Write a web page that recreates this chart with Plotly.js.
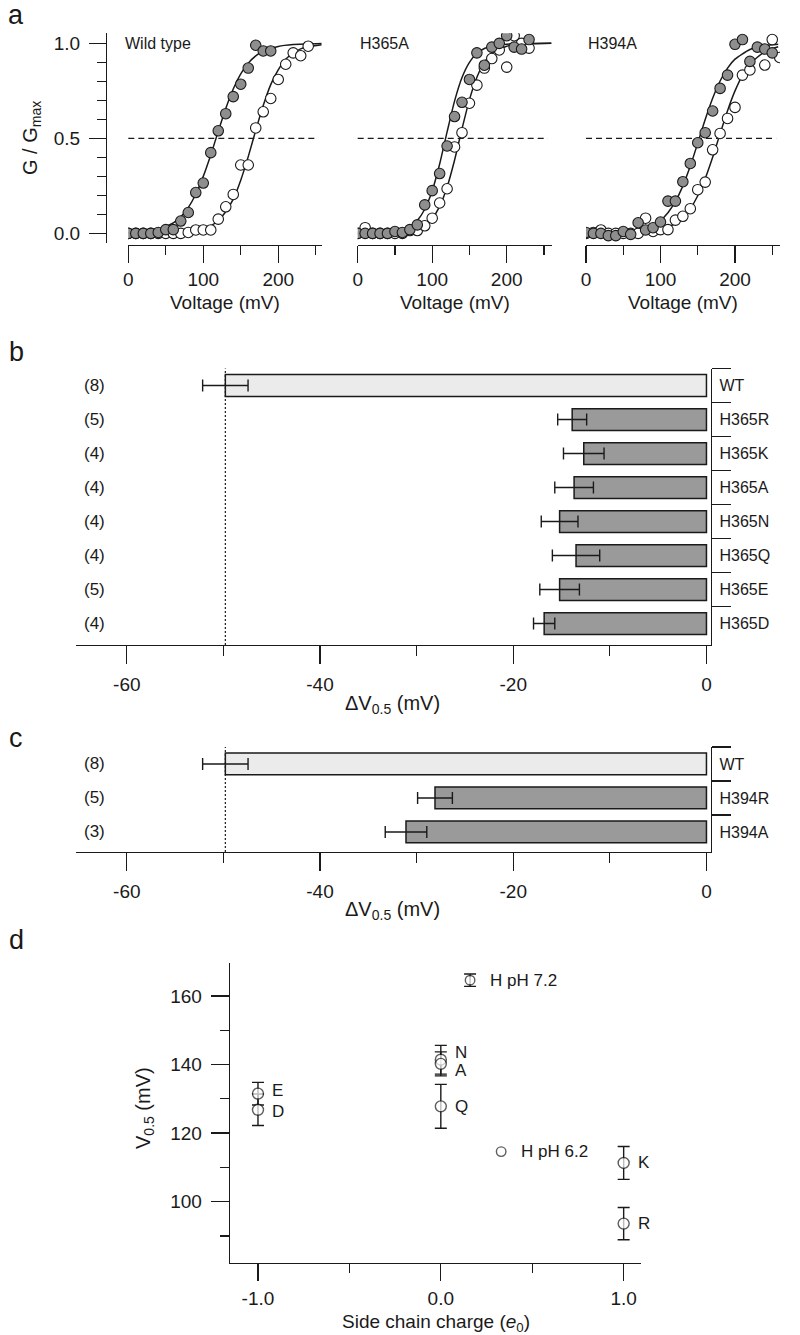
<!DOCTYPE html>
<html><head><meta charset="utf-8">
<script src="https://cdn.plot.ly/plotly-3.0.1.min.js"></script>
<style>html,body{margin:0;padding:0;background:#fff}#chart{width:800px;height:1335px}</style>
</head><body><div id="chart"></div>
<script>
// ================= DATA =================
// Panel a : normalized conductance (G/Gmax) vs voltage (mV)
const panelNames = ['Wild type', 'H365A', 'H394A'];
const vTickVals = [0, 100, 200];
const vTickText = ['0', '100', '200'];
const gTickVals = [0, 0.5, 1];
const gTickText = ['0.0', '0.5', '1.0'];
const halfLevel = 0.5;

// Wild type
const wtFilledV = [0,10,20,30,40,50,60,70,80,90,100,110,120,130,140,150,160,170,180,190];
const wtFilledG = [0,0,0,0,0.005,0.02,0.02,0.065,0.11,0.215,0.265,0.425,0.54,0.63,0.72,0.785,0.87,0.99,0.96,0.96];
const wtOpenV = [0,10,20,30,40,50,60,70,80,90,100,110,120,130,140,150,160,170,180,190,200,210,220,230,240];
const wtOpenG = [0,0,0,0,0,0,0,0,0.005,0.018,0.018,0.018,0.075,0.14,0.205,0.36,0.36,0.555,0.64,0.71,0.81,0.89,0.95,0.935,0.985];
const wtFilledFitV = [0,20,40,60,70,80,90,100,110,120,130,140,150,160,170,180,200,220,258];
const wtFilledFitG = [0.003,0.008,0.021,0.055,0.087,0.136,0.206,0.30,0.413,0.537,0.657,0.76,0.839,0.896,0.934,0.959,0.984,0.994,0.999];
const wtOpenFitV = [0,60,80,100,110,120,130,140,150,160,170,180,190,200,210,220,230,240,258];
const wtOpenFitG = [0,0.003,0.008,0.024,0.040,0.068,0.114,0.18,0.28,0.404,0.542,0.673,0.783,0.86,0.916,0.95,0.971,0.983,0.993];

// H365A
const h365FilledV = [0,10,20,30,40,50,60,70,80,90,100,110,120,130,140,150,160,170,180,190,200,210,220,230];
const h365FilledG = [0,0,0,0,0,0.01,0.005,0.02,0.045,0.15,0.225,0.315,0.46,0.615,0.69,0.81,0.95,0.885,0.98,1.0,1.04,0.98,0.97,1.02];
const h365OpenV = [0,10,20,30,40,50,60,70,80,90,100,110,120,130,140,150,160,170,180,190,200,210,220,230];
const h365OpenG = [0,0.03,0,0,0,0,0,0.015,0.015,0.04,0.08,0.16,0.235,0.455,0.53,0.685,0.78,0.87,0.92,0.965,0.875,1.04,1.0,0.975];
const h365FilledFitV = [0,40,60,70,80,90,100,110,120,130,140,150,160,170,180,200,260];
const h365FilledFitG = [0,0.005,0.018,0.035,0.068,0.127,0.224,0.365,0.534,0.696,0.82,0.90,0.948,0.973,0.986,0.996,1.0];
const h365OpenFitV = [0,60,80,90,100,110,120,130,140,150,160,170,180,200,220,260];
const h365OpenFitG = [0,0.006,0.022,0.042,0.078,0.142,0.244,0.385,0.55,0.704,0.822,0.90,0.946,0.985,0.996,1.0];

// H394A
const h394FilledV = [0,10,20,30,40,50,60,70,80,90,100,110,120,130,140,150,160,170,180,190,200,210,220,230,240,250];
const h394FilledG = [0.005,0,0,-0.012,-0.012,0.01,-0.005,0.056,0.018,0.03,0.06,0.17,0.17,0.272,0.368,0.477,0.53,0.644,0.763,0.833,0.995,1.02,0.905,0.98,0.97,0.95];
const h394OpenV = [0,10,20,30,40,50,60,70,80,90,100,110,120,130,140,150,160,170,180,190,200,210,220,240,250,260];
const h394OpenG = [0,0.005,0.018,0,0,0,0,0,0.08,0.01,0.02,0.02,0.07,0.09,0.13,0.23,0.27,0.44,0.526,0.605,0.663,0.833,0.86,0.886,1.02,0.926];
const h394FilledFitV = [0,50,80,100,110,120,130,140,150,160,170,180,190,200,220,240,258];
const h394FilledFitG = [0,0.006,0.027,0.069,0.109,0.168,0.25,0.354,0.475,0.599,0.711,0.802,0.87,0.917,0.968,0.988,0.995];
const h394OpenFitV = [0,60,80,100,120,130,140,150,160,170,180,190,200,210,220,240,258];
const h394OpenFitG = [0,0.002,0.007,0.02,0.052,0.083,0.13,0.198,0.289,0.401,0.525,0.646,0.75,0.832,0.891,0.957,0.982];

// Panel b : delta V0.5 (mV), H365 mutants
const bCategories = ['WT','H365R','H365K','H365A','H365N','H365Q','H365E','H365D'];
const bCounts = ['(8)','(5)','(4)','(4)','(4)','(4)','(5)','(4)'];
const bShift = [-49.8,-13.9,-12.7,-13.7,-15.2,-13.5,-15.2,-16.8];
const bErr = [2.35,1.5,2.1,2.0,1.9,2.45,2.05,1.1];

// Panel c : delta V0.5 (mV), H394 mutants
const cCategories = ['WT','H394R','H394A'];
const cCounts = ['(8)','(5)','(3)'];
const cShift = [-49.8,-28.1,-31.1];
const cErr = [2.35,1.8,2.15];

const shiftTickVals = [-60,-40,-20,0];
const shiftTickText = ['-60','-40','-20','0'];

// Panel d : V0.5 vs side chain charge (error 0 = bar hidden inside the symbol)
const dLabels = ['E','D','N','A','Q','H pH 7.2','H pH 6.2','K','R'];
const dCharge = [-1,-1,0,0,0,0.16,0.33,1,1];
const dV05 = [131.5,126.8,141.4,140.2,127.8,164.6,114.6,111.3,93.6];
const dErr = [3.3,4.6,4.2,3.5,6.4,1.8,0,4.8,4.7];
const chargeTickVals = [-1,0,1];
const chargeTickText = ['-1.0','0.0','1.0'];
const v05TickVals = [100,120,140,160];

// ================= STYLE / LAYOUT =================
const W = 800, H = 1335;
const px = p => p / W, py = p => 1 - p / H;
const FONT = 'Liberation Sans, Arial, Helvetica, sans-serif';
const INK = '#1a1a1a';
const GREY = '#8e8e8e';
const LW = 1.3;

function axis(extra) {
  return Object.assign({
    showgrid: false, zeroline: false, showline: true, linecolor: INK, linewidth: LW,
    ticks: 'outside', tickcolor: INK, tickwidth: LW, fixedrange: true,
    tickfont: {size: 19, color: INK, family: FONT}
  }, extra);
}
function minor(vals, len) {
  return {tickvals: vals, ticklen: len, ticks: 'outside', tickcolor: INK, tickwidth: LW, showgrid: false};
}

const traces = [];
const shapes = [];
const annotations = [];

// ---- panel a ----
const aSets = [
  {xa: 'x',  fitF: [wtFilledFitV, wtFilledFitG], fitO: [wtOpenFitV, wtOpenFitG], ptsO: [wtOpenV, wtOpenG], ptsF: [wtFilledV, wtFilledG]},
  {xa: 'x2', fitF: [h365FilledFitV, h365FilledFitG], fitO: [h365OpenFitV, h365OpenFitG], ptsO: [h365OpenV, h365OpenG], ptsF: [h365FilledV, h365FilledG]},
  {xa: 'x3', fitF: [h394FilledFitV, h394FilledFitG], fitO: [h394OpenFitV, h394OpenFitG], ptsO: [h394OpenV, h394OpenG], ptsF: [h394FilledV, h394FilledG]}
];
aSets.forEach((s, i) => {
  [s.fitO, s.fitF].forEach(f => traces.push({
    type: 'scatter', mode: 'lines', x: f[0], y: f[1], xaxis: s.xa, yaxis: 'y',
    line: {color: INK, width: 1.5, shape: 'spline', smoothing: 0.6}, hoverinfo: 'skip'
  }));
  traces.push({type: 'scatter', mode: 'markers', x: s.ptsO[0], y: s.ptsO[1], xaxis: s.xa, yaxis: 'y',
    marker: {size: 10.5, color: '#ffffff', line: {color: INK, width: 1.1}}});
  traces.push({type: 'scatter', mode: 'markers', x: s.ptsF[0], y: s.ptsF[1], xaxis: s.xa, yaxis: 'y',
    marker: {size: 10.5, color: GREY, line: {color: INK, width: 1.1}}});
  shapes.push({type: 'line', xref: s.xa + ' domain', yref: 'y', x0: 0, x1: 0.98, y0: halfLevel, y1: halfLevel,
    line: {color: INK, width: 1.2, dash: '6px,4px'}, layer: 'below'});
  annotations.push({xref: s.xa, yref: 'y', x: 0, y: 1.0, xanchor: 'left', yanchor: 'middle',
    xshift: i === 0 ? -5 : 0, text: panelNames[i], showarrow: false, font: {size: 16, color: INK, family: FONT}});
  annotations.push({xref: s.xa + ' domain', yref: 'paper', x: 0.5, y: py(303), xanchor: 'center', yanchor: 'middle',
    text: 'Voltage (mV)', showarrow: false, font: {size: 19, color: INK, family: FONT}});
});

// ---- panels b, c ----
function barPanel(cats, vals, errs, counts, xa, ya) {
  traces.push({
    type: 'bar', orientation: 'h', x: vals, y: cats, xaxis: xa, yaxis: ya, width: 0.64,
    marker: {color: cats.map(c => c === 'WT' ? '#ebebeb' : '#9a9a9a'), line: {color: INK, width: 1.5}},
    error_x: {type: 'data', array: errs, visible: true, color: INK, thickness: 1.4, width: 6},
    hoverinfo: 'skip'
  });
  shapes.push({type: 'line', xref: xa, yref: ya + ' domain', x0: vals[0], x1: vals[0], y0: 0, y1: 1,
    line: {color: INK, width: 1.2, dash: '2px,2px'}, layer: 'below'});
  counts.forEach((c, i) => annotations.push({xref: 'paper', yref: ya, x: px(94), y: i, xanchor: 'center', yanchor: 'middle',
    text: c, showarrow: false, font: {size: 17, color: INK, family: FONT}}));
}
barPanel(bCategories, bShift, bErr, bCounts, 'x4', 'y2');
barPanel(cCategories, cShift, cErr, cCounts, 'x5', 'y3');
annotations.push({xref: 'paper', yref: 'paper', x: px(392), y: py(704), xanchor: 'center', yanchor: 'middle',
  text: '\u0394V<sub>0.5</sub> (mV)', showarrow: false, font: {size: 20, color: INK, family: FONT}});
annotations.push({xref: 'paper', yref: 'paper', x: px(392), y: py(910), xanchor: 'center', yanchor: 'middle',
  text: '\u0394V<sub>0.5</sub> (mV)', showarrow: false, font: {size: 20, color: INK, family: FONT}});

// ---- panel d ----
const dIdx = dLabels.map((_, i) => i);
const withErr = dIdx.filter(i => dErr[i] > 0);
const noErr = dIdx.filter(i => !(dErr[i] > 0));
const dSize = i => dLabels[i].startsWith('H') ? 9.5 : 11;
traces.push({
  type: 'scatter', mode: 'markers', x: withErr.map(i => dCharge[i]), y: withErr.map(i => dV05[i]), xaxis: 'x6', yaxis: 'y4',
  marker: {size: withErr.map(dSize), color: '#ffffff', line: {color: INK, width: 1.4}},
  error_y: {type: 'data', array: withErr.map(i => dErr[i]), visible: true, color: INK, thickness: 1.4, width: 6}
});
traces.push({
  type: 'scatter', mode: 'markers', x: noErr.map(i => dCharge[i]), y: noErr.map(i => dV05[i]), xaxis: 'x6', yaxis: 'y4',
  marker: {size: noErr.map(dSize), color: '#ffffff', line: {color: INK, width: 1.4}}
});
const dShiftY = {'N': 7, 'A': -7, 'E': 3, 'D': -2};
dLabels.forEach((l, i) => annotations.push({
  xref: 'x6', yref: 'y4', x: dCharge[i], y: dV05[i], xanchor: 'left', yanchor: 'middle',
  xshift: l.startsWith('H') ? 18 : 12, yshift: dShiftY[l] || 0,
  text: l, showarrow: false, font: {size: 17, color: INK, family: FONT}
}));
annotations.push({xref: 'paper', yref: 'paper', x: px(436), y: py(1323), xanchor: 'center', yanchor: 'middle',
  text: 'Side chain charge (<i>e</i><sub>0</sub>)', showarrow: false, font: {size: 19, color: INK, family: FONT}});
annotations.push({xref: 'paper', yref: 'paper', x: px(144), y: py(1108), xanchor: 'center', yanchor: 'middle', textangle: -90,
  text: 'V<sub>0.5</sub> (mV)', showarrow: false, font: {size: 20, color: INK, family: FONT}});

// ---- panel a y title and panel letters ----
annotations.push({xref: 'paper', yref: 'paper', x: px(31), y: py(138), xanchor: 'center', yanchor: 'middle', textangle: -90,
  text: 'G / G<sub>max</sub>', showarrow: false, font: {size: 20, color: INK, family: FONT}});
[['a', 15], ['b', 352], ['c', 738], ['d', 940]].forEach(([t, y]) => annotations.push({
  xref: 'paper', yref: 'paper', x: px(16), y: py(y), xanchor: 'center', yanchor: 'middle',
  text: t, showarrow: false, font: {size: 27, color: INK, family: FONT}}));

const gMinor = [0.1,0.2,0.3,0.4,0.6,0.7,0.8,0.9];
const vAxis = (d0, d1, r1) => axis({domain: [px(d0), px(d1)], range: [0, r1], anchor: 'free', position: py(245),
  tickmode: 'array', tickvals: vTickVals, ticktext: vTickText, ticklen: 17, ticklabelstandoff: 0, minor: minor([50,150,250], 9)});

const layout = {
  width: W, height: H, margin: {l: 0, r: 0, t: 0, b: 0}, showlegend: false,
  paper_bgcolor: '#ffffff', plot_bgcolor: 'rgba(0,0,0,0)', font: {family: FONT, color: INK},
  xaxis: vAxis(128.3, 321.7, 258),
  xaxis2: vAxis(357.7, 551.7, 260.4),
  xaxis3: vAxis(586, 780, 260.4),
  yaxis: axis({domain: [py(242.7), py(33.3)], range: [-0.049, 1.053], anchor: 'free', position: px(106),
    tickmode: 'array', tickvals: gTickVals, ticktext: gTickText, ticklen: 17, ticklabelstandoff: 5, minor: minor(gMinor, 9)}),
  xaxis4: axis({domain: [px(75.6), px(711)], range: [-65.3, 0.47], anchor: 'y2',
    tickmode: 'array', tickvals: shiftTickVals, ticktext: shiftTickText, ticklen: 18, ticklabelstandoff: 4, minor: minor([-50,-30,-10], 10)}),
  yaxis2: axis({domain: [py(645), py(368.5)], range: [7.63, -0.5], anchor: 'x4', side: 'right', type: 'category',
    categoryorder: 'array', categoryarray: bCategories, tickson: 'boundaries', ticklen: 19, ticklabelstandoff: 4,
    tickfont: {size: 16, color: INK, family: FONT}}),
  xaxis5: axis({domain: [px(75.6), px(711)], range: [-65.3, 0.47], anchor: 'y3',
    tickmode: 'array', tickvals: shiftTickVals, ticktext: shiftTickText, ticklen: 18, ticklabelstandoff: 4, minor: minor([-50,-30,-10], 10)}),
  yaxis3: axis({domain: [py(852), py(747)], range: [2.59, -0.5], anchor: 'x5', side: 'right', type: 'category',
    categoryorder: 'array', categoryarray: cCategories, tickson: 'boundaries', ticklen: 19, ticklabelstandoff: 4,
    tickfont: {size: 16, color: INK, family: FONT}}),
  xaxis6: axis({domain: [px(230), px(641.4)], range: [-1.153, 1.097], anchor: 'y4',
    tickmode: 'array', tickvals: chargeTickVals, ticktext: chargeTickText, ticklen: 17, ticklabelstandoff: 1, minor: minor([-0.5,0.5], 9)}),
  yaxis4: axis({domain: [py(1262.7), py(962.7)], range: [82.2, 169.7], anchor: 'x6',
    tickmode: 'array', tickvals: v05TickVals, ticklen: 18, ticklabelstandoff: 5, minor: minor([90,110,130,150], 9)}),
  shapes: shapes, annotations: annotations
};

Plotly.newPlot('chart', traces, layout, {staticPlot: true, displayModeBar: false});
</script></body></html>
